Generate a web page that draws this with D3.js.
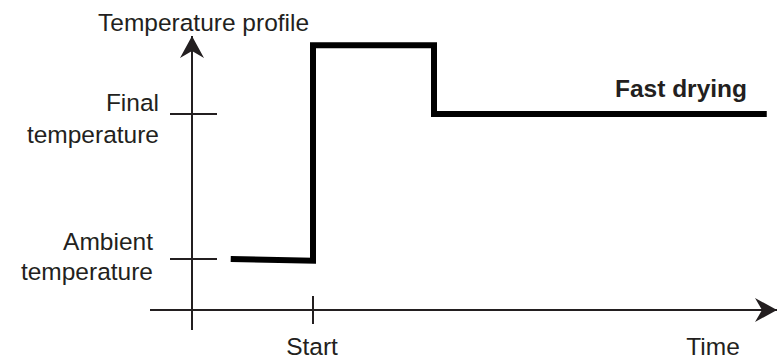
<!DOCTYPE html>
<html>
<head>
<meta charset="utf-8">
<script src="https://cdn.jsdelivr.net/npm/d3@7"></script>
<style>
  body { margin: 0; background: #fff; }
  text { font-family: "Liberation Sans", Arial, sans-serif; fill: #231f20; }
</style>
</head>
<body>
<script>
// profile (time in arbitrary units, start = 1; temperature arbitrary, ambient = 20, final = 80)
const profileTime = [0.32, 1, 1, 2, 2, 4.75];
const profileTemp = [20, 19.3, 108.5, 108.5, 80, 80];

const tempTicks = [80, 20];
const tempTickLabels = [["Final", "temperature"], ["Ambient", "temperature"]];
const timeTicks = [1];
const timeTickLabels = ["Start"];

const seriesLabel = "Fast drying";
const yTitle = "Temperature profile";
const xTitle = "Time";

const width = 781, height = 360;
const fs = 24.5;

// scales
const x = d3.scaleLinear().domain([0, 1]).range([192, 313]);
const y = d3.scaleLinear().domain([20, 80]).range([259, 114]);

const svg = d3.select("body").append("svg")
  .attr("width", width)
  .attr("height", height);

// arrowheads
const defs = svg.append("defs");
defs.append("marker")
  .attr("id", "arrow")
  .attr("viewBox", "0 0 24 24")
  .attr("refX", 22).attr("refY", 12)
  .attr("markerWidth", 24).attr("markerHeight", 24)
  .attr("markerUnits", "userSpaceOnUse")
  .attr("orient", "auto")
  .append("path")
  .attr("d", "M0,0 L22,12 L0,24 L7,12 Z")
  .attr("fill", "#231f20");

const axisY = 310;

// x axis
svg.append("line")
  .attr("x1", 150).attr("x2", 777)
  .attr("y1", axisY).attr("y2", axisY)
  .attr("stroke", "#231f20").attr("stroke-width", 2)
  .attr("marker-end", "url(#arrow)");

// y axis
svg.append("line")
  .attr("x1", x(0)).attr("x2", x(0))
  .attr("y1", 330).attr("y2", 36)
  .attr("stroke", "#231f20").attr("stroke-width", 2)
  .attr("marker-end", "url(#arrow)");

// y ticks
const yt = svg.append("g").selectAll("g")
  .data(tempTicks)
  .join("g")
  .attr("transform", d => `translate(0,${y(d)})`);

yt.append("line")
  .attr("x1", x(0) - 22).attr("x2", x(0) + 25)
  .attr("stroke", "#231f20").attr("stroke-width", 2);

yt.append("text")
  .attr("text-anchor", "end")
  .attr("font-size", fs)
  .selectAll("tspan")
  .data((d, i) => tempTickLabels[i].map((t, j) => ({ t, j, i })))
  .join("tspan")
  .attr("x", d => d.i === 0 ? 159 : 153)
  .attr("y", d => d.i === 0 ? (d.j === 0 ? -3 : 29) : (d.j === 0 ? -9 : 21))
  .text(d => d.t);

// x ticks
const xt = svg.append("g").selectAll("g")
  .data(timeTicks)
  .join("g")
  .attr("transform", d => `translate(${x(d)},0)`);

xt.append("line")
  .attr("y1", 296).attr("y2", 324)
  .attr("stroke", "#231f20").attr("stroke-width", 2);

xt.append("text")
  .attr("text-anchor", "middle")
  .attr("font-size", fs)
  .attr("x", -1)
  .attr("y", 355)
  .text((d, i) => timeTickLabels[i]);

// profile line
const line = d3.line()
  .x(d => x(d[0]))
  .y(d => y(d[1]));

svg.append("path")
  .datum(d3.zip(profileTime, profileTemp))
  .attr("d", line)
  .attr("fill", "none")
  .attr("stroke", "#000")
  .attr("stroke-width", 6)
  .attr("stroke-linejoin", "miter");

// labels
svg.append("text")
  .attr("x", 747).attr("y", 97)
  .attr("text-anchor", "end")
  .attr("font-size", fs)
  .attr("font-weight", "bold")
  .text(seriesLabel);

svg.append("text")
  .attr("x", 98).attr("y", 31)
  .attr("font-size", fs)
  .text(yTitle);

svg.append("text")
  .attr("x", 713).attr("y", 355)
  .attr("text-anchor", "middle")
  .attr("font-size", fs)
  .text(xTitle);
</script>
</body>
</html>
